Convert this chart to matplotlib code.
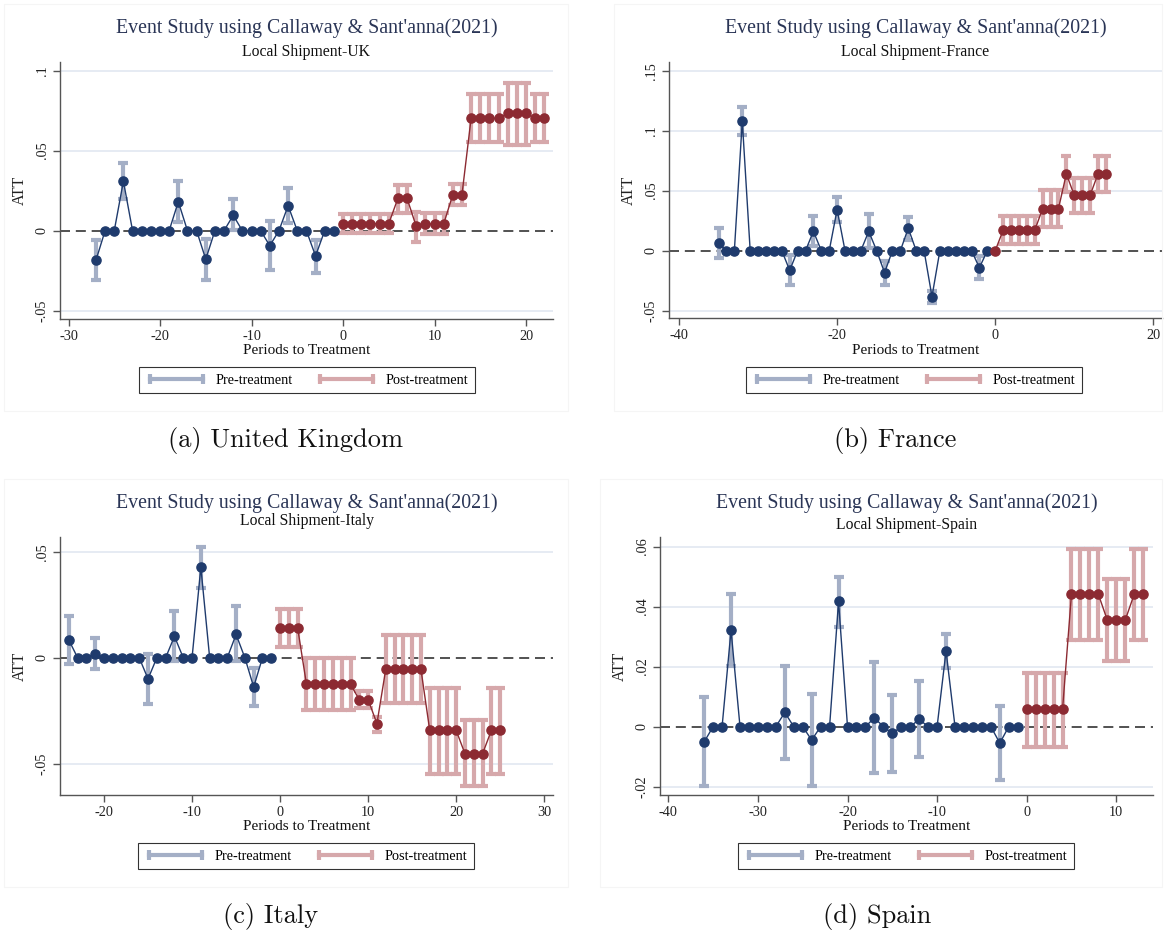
import matplotlib
matplotlib.use("Agg")
import matplotlib.pyplot as plt
from matplotlib.lines import Line2D
from matplotlib.patches import Rectangle
import numpy as np

# ---------------- data ----------------
uk_pre_t = list(range(-27, 0))
uk_pre_att = [-0.0185, 0, 0, 0.0309, 0, 0, 0, 0, 0, 0.0181, 0, 0, -0.0179, 0, 0,
              0.0096, 0, 0, 0, -0.0094, 0, 0.0156, 0, 0, -0.0158, 0, 0]
uk_pre_lo = [-0.0310, 0, 0, 0.0196, 0, 0, 0, 0, 0, 0.0056, 0, 0, -0.0306, 0, 0,
             0.0002, 0, 0, 0, -0.0248, 0, 0.0050, 0, 0, -0.0262, 0, 0]
uk_pre_hi = [-0.0058, 0, 0, 0.0420, 0, 0, 0, 0, 0, 0.0313, 0, 0, -0.0052, 0, 0,
             0.0200, 0, 0, 0, 0.0060, 0, 0.0265, 0, 0, -0.0058, 0, 0]
uk_post_t = list(range(0, 23))
uk_post_att = [0.0044] * 6 + [0.0202] * 2 + [0.0027] + [0.0042] * 3 + [0.0225] * 2 \
    + [0.0702] * 4 + [0.0733] * 3 + [0.0702] * 2
uk_post_lo = [-0.0012] * 6 + [0.0113] * 2 + [-0.0069] + [-0.0021] * 3 + [0.0163] * 2 \
    + [0.0554] * 4 + [0.0537] * 3 + [0.0554] * 2
uk_post_hi = [0.0102] * 6 + [0.0284] * 2 + [0.0115] + [0.0108] * 3 + [0.0292] * 2 \
    + [0.0856] * 4 + [0.0921] * 3 + [0.0856] * 2

fr_pre_t = list(range(-35, 0))
fr_pre_att = [0.0061, 0, 0, 0.1081, 0, 0, 0, 0, 0, -0.0164, 0, 0, 0.0161, 0, 0, 0.0342,
              0, 0, 0, 0.0161, 0, -0.0183, 0, 0, 0.0187, 0, 0, -0.0383, 0, 0, 0, 0, 0,
              -0.0142, 0]
fr_pre_lo = [-0.0061, 0, 0, 0.0967, 0, 0, 0, 0, 0, -0.0286, 0, 0, 0.0039, 0, 0, 0.0239,
             0, 0, 0, 0.0020, 0, -0.0286, 0, 0, 0.0089, 0, 0, -0.0433, 0, 0, 0, 0, 0,
             -0.0239, 0]
fr_pre_hi = [0.0187, 0, 0, 0.1198, 0, 0, 0, 0, 0, -0.0036, 0, 0, 0.0289, 0, 0, 0.0450,
             0, 0, 0, 0.0303, 0, -0.0086, 0, 0, 0.0283, 0, 0, -0.0336, 0, 0, 0, 0, 0,
             -0.0047, 0]
fr_post_t = list(range(0, 15))
fr_post_att = [0] + [0.0170] * 5 + [0.0350] * 3 + [0.0639] + [0.0461] * 3 + [0.0639] * 2
fr_post_lo = [0] + [0.0053] * 5 + [0.0200] * 3 + [0.0490] + [0.0317] * 3 + [0.0490] * 2
fr_post_hi = [0] + [0.0292] * 5 + [0.0506] * 3 + [0.0789] + [0.0603] * 3 + [0.0789] * 2

it_pre_t = list(range(-24, 0))
it_pre_att = [0.0084, 0, 0, 0.0019, 0, 0, 0, 0, 0, -0.0100, 0, 0, 0.0101, 0, 0, 0.0427,
              0, 0, 0, 0.0110, 0, -0.0138, 0, 0]
it_pre_lo = [-0.0031, 0, 0, -0.0053, 0, 0, 0, 0, 0, -0.0217, 0, 0, -0.0017, 0, 0, 0.0328,
             0, 0, 0, -0.0017, 0, -0.0228, 0, 0]
it_pre_hi = [0.0198, 0, 0, 0.0094, 0, 0, 0, 0, 0, 0.0020, 0, 0, 0.0219, 0, 0, 0.0521,
             0, 0, 0, 0.0243, 0, -0.0047, 0, 0]
it_post_t = list(range(0, 26))
it_post_att = [0.0139] * 3 + [-0.0126] * 6 + [-0.0198] * 2 + [-0.0311] + [-0.0055] * 5 \
    + [-0.0343] * 4 + [-0.0453] * 3 + [-0.0343] * 2
it_post_lo = [0.0050] * 3 + [-0.0245] * 6 + [-0.0236] * 2 + [-0.0352] + [-0.0212] * 5 \
    + [-0.0548] * 4 + [-0.0607] * 3 + [-0.0548] * 2
it_post_hi = [0.0230] * 3 + [-0.0003] * 6 + [-0.0156] * 2 + [-0.0278] + [0.0106] * 5 \
    + [-0.0142] * 4 + [-0.0294] * 3 + [-0.0142] * 2

es_pre_t = list(range(-36, 0))
es_pre_att = [-0.0051, 0, 0, 0.0321, 0, 0, 0, 0, 0, 0.0047, 0, 0, -0.0045, 0, 0, 0.0417,
              0, 0, 0, 0.0029, 0, -0.0023, 0, 0, 0.0024, 0, 0, 0.0252, 0, 0, 0, 0, 0,
              -0.0055, 0, 0]
es_pre_lo = [-0.0197, 0, 0, 0.0201, 0, 0, 0, 0, 0, -0.0107, 0, 0, -0.0198, 0, 0, 0.0333,
             0, 0, 0, -0.0155, 0, -0.0150, 0, 0, -0.0103, 0, 0, 0.0195, 0, 0, 0, 0, 0,
             -0.0179, 0, 0]
es_pre_hi = [0.0097, 0, 0, 0.0442, 0, 0, 0, 0, 0, 0.0201, 0, 0, 0.0109, 0, 0, 0.0500,
             0, 0, 0, 0.0216, 0, 0.0106, 0, 0, 0.0152, 0, 0, 0.0310, 0, 0, 0, 0, 0,
             0.0069, 0, 0]
es_post_t = list(range(0, 14))
es_post_att = [0.0057] * 5 + [0.0441] * 4 + [0.0355] * 3 + [0.0441] * 2
es_post_lo = [-0.0067] * 5 + [0.0289] * 4 + [0.0217] * 3 + [0.0289] * 2
es_post_hi = [0.0180] * 5 + [0.0592] * 4 + [0.0493] * 3 + [0.0592] * 2

uk_yticks = [-0.05, 0, 0.05, 0.1]
uk_ylabels = ["-.05", "0", ".05", ".1"]
fr_yticks = [-0.05, 0, 0.05, 0.1, 0.15]
fr_ylabels = ["-.05", "0", ".05", ".1", ".15"]
it_yticks = [-0.05, 0, 0.05]
it_ylabels = ["-.05", "0", ".05"]
es_yticks = [-0.02, 0, 0.02, 0.04, 0.06]
es_ylabels = ["-.02", "0", ".02", ".04", ".06"]
uk_xticks = [-30, -20, -10, 0, 10, 20]
fr_xticks = [-40, -20, 0, 20]
it_xticks = [-20, -10, 0, 10, 20, 30]
es_xticks = [-40, -30, -20, -10, 0, 10]

# ---------------- style ----------------
W, H = 1166, 935
SERIF = ["Liberation Serif", "DejaVu Serif"]
CM = ["cmr10", "DejaVu Serif"]
PRE_C = "#1f3b6d"
PRE_CI = "#a4afc6"
POST_C = "#8c2a32"
POST_CI = "#d6a8ab"
TITLE_C = "#2a3556"
GRID_C = "#e4e9f2"
AX_C = "#555555"

plt.rcParams["font.family"] = SERIF
plt.rcParams["axes.unicode_minus"] = False

fig = plt.figure(figsize=(W / 100, H / 100), dpi=100)
fig.patch.set_facecolor("white")


def fx(x):
    return x / W


def fy(y):
    return 1 - y / H


def series(ax, t, att, lo, hi, c, cic):
    t = np.asarray(t, float)
    att = np.asarray(att, float)
    lo = np.asarray(lo, float)
    hi = np.asarray(hi, float)
    m = hi > lo
    ax.vlines(t[m], lo[m], hi[m], color=cic, lw=3.0, zorder=2)
    for v in (lo, hi):
        ax.plot(t[m], v[m], ls="none", marker="_", ms=7.2, mew=3.0,
                color=cic, zorder=2)
    ax.plot(t, att, color=c, lw=1.0, marker="o", ms=6.6, mfc=c, mec=c, zorder=4)


def panel(box, frame, data, xlim, ylim, xticks, yticks, ylabels, subtitle,
          caption, cap_xy, title_y, sub_y, xlab_y, leg_y, leg_x):
    l, r, t, b = box
    ax = fig.add_axes([fx(l), fy(b), fx(r) - fx(l), fy(t) - fy(b)])
    # faint border of each sub-figure
    fl, ft, fr, fb = frame
    fig.patches.append(Rectangle((fx(fl), fy(fb)), fx(fr) - fx(fl), fy(ft) - fy(fb),
                                 transform=fig.transFigure, fill=False,
                                 edgecolor="#f5f5f5", lw=0.8))
    for sp in ("top", "right"):
        ax.spines[sp].set_visible(False)
    for sp in ("left", "bottom"):
        ax.spines[sp].set_color(AX_C)
        ax.spines[sp].set_linewidth(1.0)
    ax.set_xlim(*xlim)
    ax.set_ylim(*ylim)
    ax.set_xticks(xticks)
    ax.set_xticklabels([str(v) for v in xticks])
    ax.set_yticks(yticks)
    ax.set_yticklabels(ylabels, rotation=90, va="center")
    ax.tick_params(direction="out", length=5, width=1, color=AX_C,
                   labelsize=10.3, labelcolor="#222222", pad=3)
    for yv in yticks:
        if yv != 0:
            ax.axhline(yv, color=GRID_C, lw=1.3, zorder=0)
    ax.axhline(0, color="#333333", lw=1.2, dashes=(6, 3.5), zorder=1)
    pre, post = data
    series(ax, *pre, PRE_C, PRE_CI)
    series(ax, *post, POST_C, POST_CI)
    ax.set_ylabel("ATT", fontsize=11.5, color="#222222")
    ax.yaxis.set_label_coords(-32 / (r - l), 0.5)
    cx = (l + r) / 2
    fig.text(fx(cx), fy(title_y), "Event Study using Callaway & Sant'anna(2021)",
             ha="center", va="center", fontsize=14.3, color=TITLE_C)
    fig.text(fx(cx), fy(sub_y), subtitle, ha="center", va="center",
             fontsize=11.3, color="#111111")
    fig.text(fx(cx), fy(xlab_y), "Periods to Treatment", ha="center",
             va="center", fontsize=11, color="#111111")
    h_pre = Line2D([], [], color=PRE_CI, lw=3.0, marker="|", ms=7, mew=3.0)
    h_post = Line2D([], [], color=POST_CI, lw=3.0, marker="|", ms=7, mew=3.0)
    leg = fig.legend([h_pre, h_post], ["Pre-treatment", "Post-treatment"],
                     loc="center", bbox_to_anchor=(fx(leg_x), fy(leg_y)),
                     ncol=2, numpoints=2, frameon=True, fancybox=False,
                     edgecolor="black", fontsize=10.3, handlelength=4.3,
                     columnspacing=1.6, handletextpad=0.6, borderpad=0.45)
    leg.get_frame().set_linewidth(0.8)
    fig.text(fx(cap_xy[0]), fy(cap_xy[1]), caption, ha="center", va="center",
             fontsize=19, family=CM, color="#111111")
    return ax


panel((60, 553, 62, 319), (4, 4, 568, 411),
      ((uk_pre_t, uk_pre_att, uk_pre_lo, uk_pre_hi),
       (uk_post_t, uk_post_att, uk_post_lo, uk_post_hi)),
      (-30.93, 22.95), (-0.0552, 0.1054), uk_xticks, uk_yticks, uk_ylabels,
      "Local Shipment-UK", "(a) United Kingdom", (286, 441),
      28, 52, 350, 380, 307)

panel((669, 1162, 62, 318), (614, 4, 1162, 411),
      ((fr_pre_t, fr_pre_att, fr_pre_lo, fr_pre_hi),
       (fr_post_t, fr_post_att, fr_post_lo, fr_post_hi)),
      (-41.27, 21.1), (-0.0561, 0.1572), fr_xticks, fr_yticks, fr_ylabels,
      "Local Shipment-France", "(b) France", (895, 441),
      28, 52, 350, 380, 914)

panel((60, 553, 537, 795), (4, 479, 568, 887),
      ((it_pre_t, it_pre_att, it_pre_lo, it_pre_hi),
       (it_post_t, it_post_att, it_post_lo, it_post_hi)),
      (-25.0, 31.0), (-0.0648, 0.057), it_xticks, it_yticks, it_ylabels,
      "Local Shipment-Italy", "(c) Italy", (271, 917),
      503, 521, 826, 856, 306)

panel((660, 1153, 537, 795), (600, 479, 1162, 887),
      ((es_pre_t, es_pre_att, es_pre_lo, es_pre_hi),
       (es_post_t, es_post_att, es_post_lo, es_post_hi)),
      (-40.93, 14.1), (-0.0228, 0.0632), es_xticks, es_yticks, es_ylabels,
      "Local Shipment-Spain", "(d) Spain", (877, 917),
      503, 525, 826, 856, 906)

fig.savefig("out.png", dpi=100, facecolor="white")
